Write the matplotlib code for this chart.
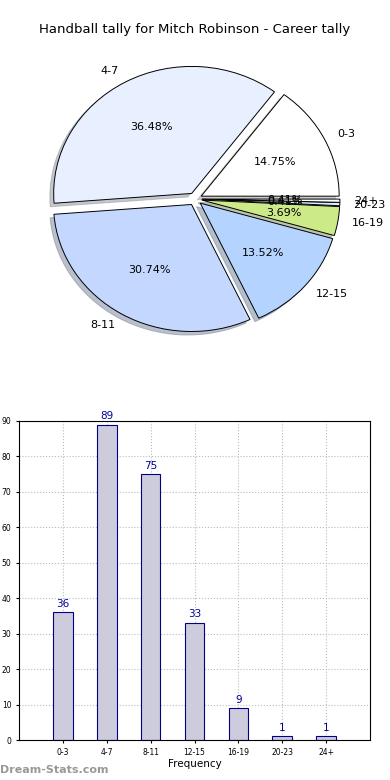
import matplotlib
matplotlib.use("Agg")
import matplotlib.pyplot as plt

# career tally data
categories = ["0-3", "4-7", "8-11", "12-15", "16-19", "20-23", "24+"]
counts = [36, 89, 75, 33, 9, 1, 1]
pie_colors = ["#ffffff", "#e8f0ff", "#c4d8ff", "#b4d4ff", "#cceb88", "#d8ecff", "#ffffff"]
yticks = [0, 10, 20, 30, 40, 50, 60, 70, 80, 90]

fig = plt.figure(figsize=(3.9, 7.8), dpi=100)

# pie is slightly squashed in the reference: centre ~(195, 199) px,
# horizontal radius ~138 px, vertical ~127 px
cx, cy, rx, ry = 195, 199, 138, 127
hx, hy = rx * 1.25, ry * 1.25
ax_pie = fig.add_axes([(cx - hx) / 390, (780 - cy - hy) / 780, 2 * hx / 390, 2 * hy / 780])
ax_pie.pie(
    counts,
    labels=categories,
    colors=pie_colors,
    explode=[0.05] * len(counts),
    autopct="%.2f%%",
    startangle=0,
    shadow={"ox": -0.02, "oy": -0.02, "shade": 0.4},
    wedgeprops={"edgecolor": "black", "linewidth": 0.7},
    textprops={"fontsize": 8},
)
ax_pie.set_aspect("auto")
ax_pie.set_xlim(-1.25, 1.25)
ax_pie.set_ylim(-1.25, 1.25)
fig.text(0.5, 1 - 30 / 780, "Handball tally for Mitch Robinson - Career tally",
         ha="center", va="center", fontsize=9.5)

# bar chart: axes from x 19..370, y 421..740 px
ax_bar = fig.add_axes([19 / 390, (780 - 740) / 780, (370 - 19) / 390, (740 - 421) / 780])
x = list(range(len(categories)))
ax_bar.bar(x, counts, width=0.45, color="#ccccdd", edgecolor="#000088", linewidth=0.8, zorder=2)
for xi, v in zip(x, counts):
    ax_bar.text(xi, v + 1, str(v), ha="center", va="bottom", fontsize=7.5, color="#000099")
ax_bar.set_xlim(-1, 7)
ax_bar.set_ylim(0, 90)
ax_bar.set_xticks(x)
ax_bar.set_xticklabels(categories, fontsize=5.5)
ax_bar.set_yticks(yticks)
ax_bar.tick_params(axis="y", labelsize=5.5, length=2)
ax_bar.tick_params(axis="x", length=2)
ax_bar.grid(True, linestyle=":", color="#bbbbbb", linewidth=0.8, zorder=0)
ax_bar.set_axisbelow(True)
ax_bar.set_xlabel("Frequency", fontsize=7.5, labelpad=2)

fig.text(0.0, 1 - 770 / 780, "Dream-Stats.com", ha="left", va="center",
         fontsize=8, color="#999999", fontweight="bold")

fig.savefig("out.png", dpi=100)
